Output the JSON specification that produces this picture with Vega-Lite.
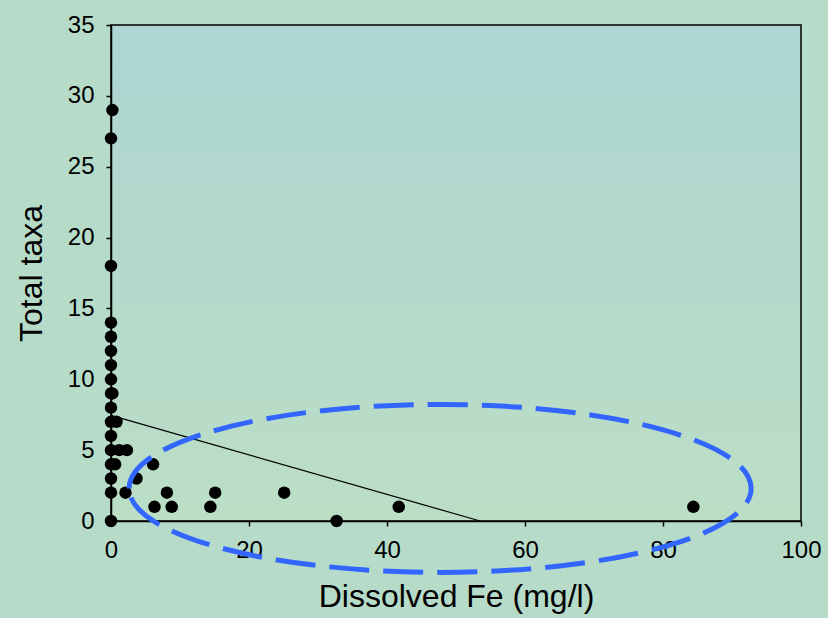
{
  "$schema": "https://vega.github.io/schema/vega-lite/v6.json",
  "width": 690,
  "height": 496,
  "autosize": {"type": "none"},
  "padding": {"left": 111, "top": 25, "right": 27, "bottom": 97},
  "background": "#B6DBC9",
  "config": {
    "font": "Liberation Sans",
    "view": {
      "stroke": "black",
      "strokeWidth": 1.5,
      "fill": {"gradient": "linear", "x1": 0, "y1": 0, "x2": 0, "y2": 1,
        "stops": [{"offset": 0, "color": "#ADD5D2"}, {"offset": 1, "color": "#BBDEC5"}]}
    },
    "axis": {
      "grid": false,
      "domainColor": "black",
      "domainWidth": 1.5,
      "tickColor": "black",
      "tickWidth": 1.5,
      "tickSize": 5,
      "labelColor": "black",
      "labelFontSize": 24,
      "labelFlush": false,
      "labelFont": "Liberation Sans",
      "titleFont": "Liberation Sans",
      "titleFontSize": 32,
      "titleFontWeight": "normal",
      "titleColor": "black"
    }
  },
  "datasets": {
    "samples": [
      {"fe": 0.2, "taxa": 29}, {"fe": 0, "taxa": 27}, {"fe": 0, "taxa": 18},
      {"fe": 0, "taxa": 14}, {"fe": 0, "taxa": 13}, {"fe": 0, "taxa": 12},
      {"fe": 0, "taxa": 11}, {"fe": 0, "taxa": 10}, {"fe": 0, "taxa": 9},
      {"fe": 0.2, "taxa": 9}, {"fe": 0, "taxa": 8}, {"fe": 0, "taxa": 7},
      {"fe": 0.8, "taxa": 7}, {"fe": 0, "taxa": 6}, {"fe": 0, "taxa": 5},
      {"fe": 1.2, "taxa": 5}, {"fe": 2.3, "taxa": 5}, {"fe": 0, "taxa": 4},
      {"fe": 0.6, "taxa": 4}, {"fe": 6.1, "taxa": 4}, {"fe": 0, "taxa": 3},
      {"fe": 3.7, "taxa": 3}, {"fe": 0, "taxa": 2}, {"fe": 2.1, "taxa": 2},
      {"fe": 8.1, "taxa": 2}, {"fe": 15.1, "taxa": 2}, {"fe": 25.1, "taxa": 2},
      {"fe": 6.3, "taxa": 1}, {"fe": 8.8, "taxa": 1}, {"fe": 14.4, "taxa": 1},
      {"fe": 41.7, "taxa": 1}, {"fe": 84.4, "taxa": 1}, {"fe": 0, "taxa": 0},
      {"fe": 32.7, "taxa": 0}
    ],
    "trend": [
      {"fe": 0, "taxa": 7.45},
      {"fe": 53.5, "taxa": 0}
    ],
    "highlight": [
      {"fe": 47.7, "taxa": 2.3}
    ]
  },
  "layer": [
    {
      "data": {"name": "trend"},
      "mark": {"type": "line", "color": "black", "strokeWidth": 1.2, "clip": false},
      "encoding": {
        "x": {"field": "fe", "type": "quantitative",
          "scale": {"domain": [0, 100], "nice": false},
          "axis": {"values": [0, 20, 40, 60, 80, 100], "labelPadding": 12,
            "title": "Dissolved Fe (mg/l)", "titlePadding": 19}},
        "y": {"field": "taxa", "type": "quantitative",
          "scale": {"domain": [0, 35], "nice": false},
          "axis": {"values": [0, 5, 10, 15, 20, 25, 30, 35], "labelPadding": 12,
            "title": "Total taxa", "titlePadding": 19}}
      }
    },
    {
      "data": {"name": "samples"},
      "mark": {"type": "point", "filled": true, "color": "black", "opacity": 1, "size": 155, "clip": false},
      "encoding": {
        "x": {"field": "fe", "type": "quantitative"},
        "y": {"field": "taxa", "type": "quantitative"}
      }
    },
    {
      "data": {"name": "highlight"},
      "mark": {
        "type": "point",
        "shape": "M -1 0 A 1 0.27 0 1 1 1 0 A 1 0.27 0 1 1 -1 0 Z",
        "size": 386884,
        "filled": false,
        "stroke": "#3366FF",
        "strokeWidth": 5,
        "strokeDash": [40, 14],
        "opacity": 1,
        "clip": false
      },
      "encoding": {
        "x": {"field": "fe", "type": "quantitative"},
        "y": {"field": "taxa", "type": "quantitative"}
      }
    }
  ]
}
